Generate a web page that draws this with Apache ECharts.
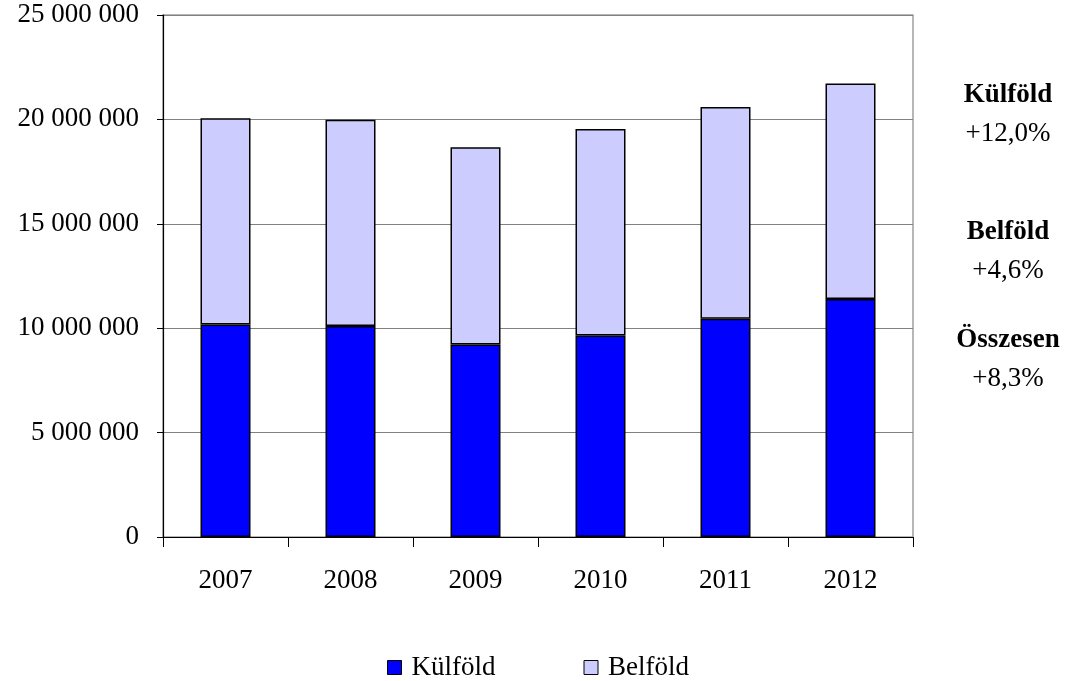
<!DOCTYPE html>
<html><head><meta charset="utf-8">
<script src="https://cdn.jsdelivr.net/npm/echarts@6/dist/echarts.min.js"></script>
<style>html,body{margin:0;padding:0;background:#fff}#c{width:1076px;height:681px}</style>
</head><body><div id="c"></div>
<script>
const years = ['2007','2008','2009','2010','2011','2012'];
const kulfold = [10180000, 10100000, 9220000, 9650000, 10450000, 11400000];
const belfold = [9870000, 9880000, 9450000, 9890000, 10140000, 10320000];
const notes = [['Külföld','+12,0%'],['Belföld','+4,6%'],['Összesen','+8,3%']];

const FONT = '"Liberation Serif", "DejaVu Serif", serif';
const FS = 27;
const chart = echarts.init(document.getElementById('c'));
const noteY = [95, 232, 340];
const graphics = [];
notes.forEach((n, i) => {
  graphics.push({type:'text', x:1008, y:noteY[i],
    style:{text:n[0], font:'bold ' + FS + 'px ' + FONT, fill:'#000', textAlign:'center', textVerticalAlign:'middle'}});
  graphics.push({type:'text', x:1008, y:noteY[i] + 39,
    style:{text:n[1], font:FS + 'px ' + FONT, fill:'#000', textAlign:'center', textVerticalAlign:'middle'}});
});

chart.setOption({
  animation: false,
  textStyle: {fontFamily: FONT},
  grid: {left:163, right:163, top:15, bottom:144, containLabel:false, show:true, borderColor:'#a0a0a0', borderWidth:1.5},
  legend: {
    top: 649, left: 'center', icon: 'rect', itemWidth: 14, itemHeight: 14, itemGap: 88,
    textStyle: {fontFamily: FONT, fontSize: FS, color: '#000', padding: [0, 0, 0, 5]},
    data: [{name:'Külföld', itemStyle:{borderColor:'#000', borderWidth:1}}, {name:'Belföld', itemStyle:{borderColor:'#000', borderWidth:1}}]
  },
  xAxis: {
    type: 'category', data: years,
    axisLine: {lineStyle: {color:'#000', width:1.2}},
    axisTick: {show:true, length:10, lineStyle:{color:'#000'}},
    axisLabel: {fontFamily: FONT, fontSize: FS, color:'#000', margin: 30}
  },
  yAxis: {
    type: 'value', min: 0, max: 25000000, interval: 5000000,
    axisLine: {show:true, lineStyle: {color:'#000', width:1.2}},
    axisTick: {show:true, length:6, lineStyle:{color:'#000'}},
    splitLine: {lineStyle: {color:'#808080', width:1}},
    axisLabel: {fontFamily: FONT, fontSize: FS, color:'#000', margin: 24,
      formatter: v => String(v).replace(/\B(?=(\d{3})+(?!\d))/g, ' ')}
  },
  series: [
    {name:'Külföld', type:'bar', stack:'t', data:kulfold, barWidth:'40%',
     itemStyle:{color:'#0000ff', borderColor:'#000', borderWidth:1.5}},
    {name:'Belföld', type:'bar', stack:'t', data:belfold, barWidth:'40%',
     itemStyle:{color:'#ccccff', borderColor:'#000', borderWidth:1.5}}
  ],
  graphic: graphics
});
</script></body></html>
